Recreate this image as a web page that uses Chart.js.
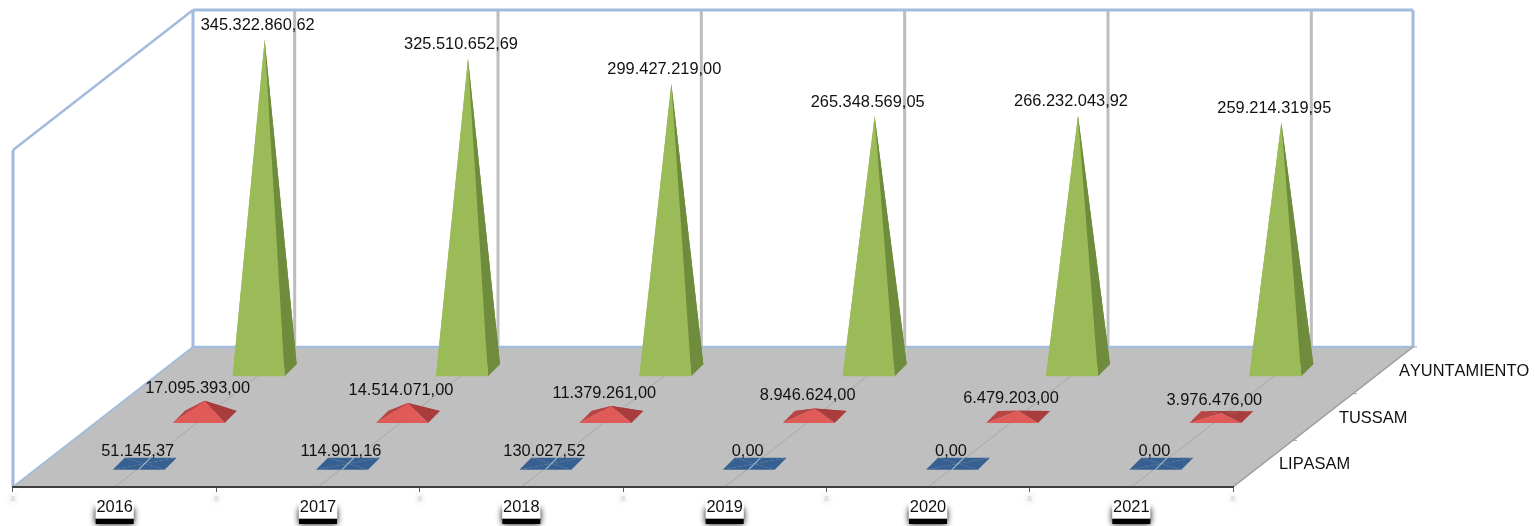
<!DOCTYPE html>
<html>
<head>
<meta charset="utf-8">
<title>Pyramids</title>
<script src="https://cdn.jsdelivr.net/npm/chart.js@4"></script>
<style>
    html, body { margin: 0; padding: 0; background: #fff; }
    canvas { display: block; }
</style>
</head>
<body>
<canvas id="chart" width="1535" height="526"></canvas>
<script>
const years = ['2016', '2017', '2018', '2019', '2020', '2021'];
const seriesNames = ['LIPASAM', 'TUSSAM', 'AYUNTAMIENTO'];
const lipasam = [51145.37, 114901.16, 130027.52, 0, 0, 0];
const tussam = [17095393, 14514071, 11379261, 8946624, 6479203, 3976476];
const ayuntamiento = [345322860.62, 325510652.69, 299427219, 265348569.05, 266232043.92, 259214319.95];

const FONT = '16.4px "Liberation Sans", Arial, sans-serif';
const SKEW_X = 180;      // how far the back of the floor is pushed to the right
const WALL = '#a3bcdc';
const FLOOR = '#bfbfbf';

// faces of the pyramids of each series, and how high the value sits over the tip
const faces = [
    { front: '#366092', left: '#366092', right: '#366092', back: '#366092', split: '#a9b6c8', lift: 12.5 },
    { front: '#e05a58', left: '#b84543', right: '#a93c3c', back: '#a93c3c', lift: 12.5 },
    { front: '#9bbb59', left: '#9bbb59', right: '#6f8c3c', back: '#6f8c3c', lift: 14 }
];

function money(v) {
    const parts = v.toFixed(2).split('.');
    return parts[0].replace(/\B(?=(\d{3})+$)/g, '.') + ',' + parts[1];
}

function poly(ctx, pts, color) {
    ctx.beginPath();
    ctx.moveTo(pts[0][0], pts[0][1]);
    for (let p of pts.slice(1)) ctx.lineTo(p[0], p[1]);
    ctx.closePath();
    ctx.fillStyle = color;
    ctx.fill();
}

function line(ctx, x1, y1, x2, y2, color, width) {
    ctx.beginPath();
    ctx.moveTo(x1, y1);
    ctx.lineTo(x2, y2);
    ctx.strokeStyle = color;
    ctx.lineWidth = width;
    ctx.stroke();
}

// depth of a series on the floor, 0 = front edge, 1 = back edge
function depthOf(chart, i) {
    const d = chart.scales.depth;
    return (d.getPixelForValue(i) - d.left) / d.width;
}

function skewY(chart) {
    return chart.chartArea.bottom - chart.scales.y.getPixelForValue(0);
}

const box3d = {
    id: 'box3d',
    beforeDraw(chart) {
        const ctx = chart.ctx;
        const a = chart.chartArea;
        const x = chart.scales.x;
        const sy = skewY(chart);
        const backY = a.bottom - sy;
        ctx.save();

        poly(ctx, [[a.left, a.bottom], [a.right, a.bottom], [a.right + SKEW_X, backY], [a.left + SKEW_X, backY]], FLOOR);

        // lines along the floor and up the back wall
        years.forEach((y, i) => {
            const px = x.getPixelForValue(i);
            line(ctx, px, a.bottom, px + SKEW_X, backY, '#a8a8a8', 1);
            line(ctx, px + SKEW_X, a.top, px + SKEW_X, backY, '#bdbdbd', 3);
        });

        // walls
        line(ctx, a.left, a.bottom, a.left, a.top + sy, WALL, 3);
        line(ctx, a.left, a.top + sy, a.left + SKEW_X, a.top, WALL, 2.5);
        line(ctx, a.left + SKEW_X, a.top, a.right + SKEW_X, a.top, WALL, 3);
        line(ctx, a.left + SKEW_X, a.top, a.left + SKEW_X, backY, WALL, 3);
        line(ctx, a.right + SKEW_X, a.top, a.right + SKEW_X, backY, WALL, 3);
        line(ctx, a.left + SKEW_X, backY, a.right + SKEW_X, backY, WALL, 2.5);
        line(ctx, a.left, a.bottom, a.left + SKEW_X, backY, WALL, 2);
        line(ctx, a.right, a.bottom, a.right + SKEW_X, backY, '#9a9a9a', 1.5);

        // little ticks on the right floor edge
        for (let k = 1; k <= seriesNames.length; k++) {
            const f = k / seriesNames.length;
            const ex = a.right + SKEW_X * f;
            const ey = a.bottom - sy * f;
            line(ctx, ex, ey, ex + 4, ey, '#a0a0a0', 1);
        }

        // black smudge under the year labels
        ctx.shadowColor = '#000';
        ctx.shadowBlur = 6;
        ctx.fillStyle = '#000';
        years.forEach((y, i) => {
            ctx.fillRect(x.getPixelForValue(i) - 19, 508, 38, 16);
        });
        ctx.shadowBlur = 0;

        // faint smudge below the axis ticks
        ctx.shadowColor = '#ccc';
        ctx.shadowBlur = 6;
        ctx.fillStyle = '#e4e4e4';
        for (let i = 0; i <= years.length; i++) {
            ctx.fillRect(a.left + i * (a.right - a.left) / years.length - 2, 496, 4, 5);
        }
        ctx.restore();
    },
    afterDatasetsDraw(chart) {
        const ctx = chart.ctx;
        const a = chart.chartArea;
        const x = chart.scales.x;
        const y = chart.scales.y;
        const sy = skewY(chart);
        const y0 = y.getPixelForValue(0);
        ctx.save();

        // back row first so the front rows sit on top
        for (let s = chart.data.datasets.length - 1; s >= 0; s--) {
            const d = depthOf(chart, s);
            const col = faces[s];
            chart.data.datasets[s].data.forEach((v, i) => {
                const cx = x.getPixelForValue(i) + SKEW_X * d;
                const cy = a.bottom - sy * d;
                const top = [cx, cy - (y0 - y.getPixelForValue(v))];
                const fl = [cx - 32, cy + 6];
                const fr = [cx + 20, cy + 6];
                const br = [cx + 32, cy - 6];
                const bl = [cx - 20, cy - 6];
                poly(ctx, [bl, br, top], col.back);
                poly(ctx, [fl, bl, top], col.left);
                poly(ctx, [fr, br, top], col.right);
                poly(ctx, [fl, fr, top], col.front);
                if (col.split) line(ctx, cx - 6, cy + 6, cx + 6, cy - 6, col.split, 1.2);
            });
        }

        ctx.font = FONT;
        ctx.fillStyle = '#111';
        ctx.textAlign = 'center';
        ctx.textBaseline = 'middle';
        chart.data.datasets.forEach((ds, s) => {
            const d = depthOf(chart, s);
            ds.data.forEach((v, i) => {
                const cx = x.getPixelForValue(i) + SKEW_X * d;
                const cy = a.bottom - sy * d;
                ctx.fillText(money(v), cx - 7, cy - (y0 - y.getPixelForValue(v)) - faces[s].lift);
            });
        });

        // series names along the right edge of the floor
        ctx.textAlign = 'left';
        ctx.fontKerning = 'none';
        seriesNames.forEach((name, s) => {
            const d = depthOf(chart, s);
            ctx.fillText(name, a.right + SKEW_X * d + 16, a.bottom - sy * d + 1);
        });
        ctx.restore();
    }
};

new Chart(document.getElementById('chart'), {
    type: 'bar',
    data: {
        labels: years,
        datasets: [
            { label: seriesNames[0], data: lipasam, backgroundColor: 'transparent' },
            { label: seriesNames[1], data: tussam, backgroundColor: 'transparent' },
            { label: seriesNames[2], data: ayuntamiento, backgroundColor: 'transparent' }
        ]
    },
    options: {
        responsive: false,
        animation: false,
        layout: { padding: { left: 13, right: 302, top: 10, bottom: 0 } },
        plugins: { legend: { display: false }, tooltip: { enabled: false } },
        scales: {
            x: {
                afterFit: s => { s.height = 39; },
                border: { color: '#404040', width: 2 },
                grid: { drawOnChartArea: false, tickLength: 5, tickColor: '#606060' },
                ticks: {
                    autoSkip: false,
                    maxRotation: 0,
                    padding: 6,
                    color: '#111',
                    font: { family: '"Liberation Sans", Arial, sans-serif', size: 16.4 },
                    showLabelBackdrop: true,
                    backdropColor: '#fff',
                    backdropPadding: 1
                }
            },
            depth: { type: 'category', axis: 'x', labels: seriesNames, offset: true, display: false },
            y: { display: false, min: -146200000, max: 352000000 }
        }
    },
    plugins: [box3d]
});
</script>
</body>
</html>
